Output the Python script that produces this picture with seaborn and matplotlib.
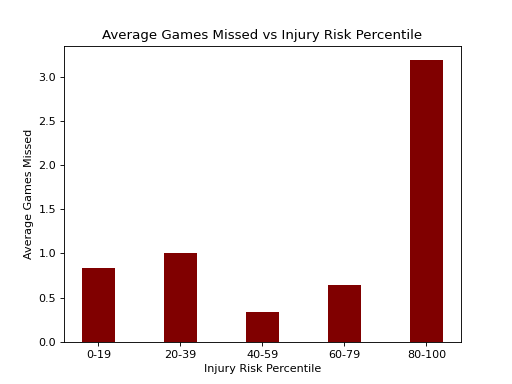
import matplotlib
matplotlib.use("Agg")
import matplotlib.pyplot as plt
import seaborn as sns
import pandas as pd

risk_percentiles = ["0-19", "20-39", "40-59", "60-79", "80-100"]
avg_games_missed = [0.83, 1.0, 0.34, 0.64, 3.19]

df = pd.DataFrame({"percentile": risk_percentiles, "missed": avg_games_missed})

fig, ax = plt.subplots(figsize=(6.4, 4.8), dpi=80)
sns.barplot(data=df, x="percentile", y="missed", color="maroon",
            saturation=1, width=0.4, ax=ax)
ax.set_xlim(-0.42, 4.42)
ax.set_title("Average Games Missed vs Injury Risk Percentile")
ax.set_xlabel("Injury Risk Percentile")
ax.set_ylabel("Average Games Missed")
fig.savefig("out.png", dpi=80)
